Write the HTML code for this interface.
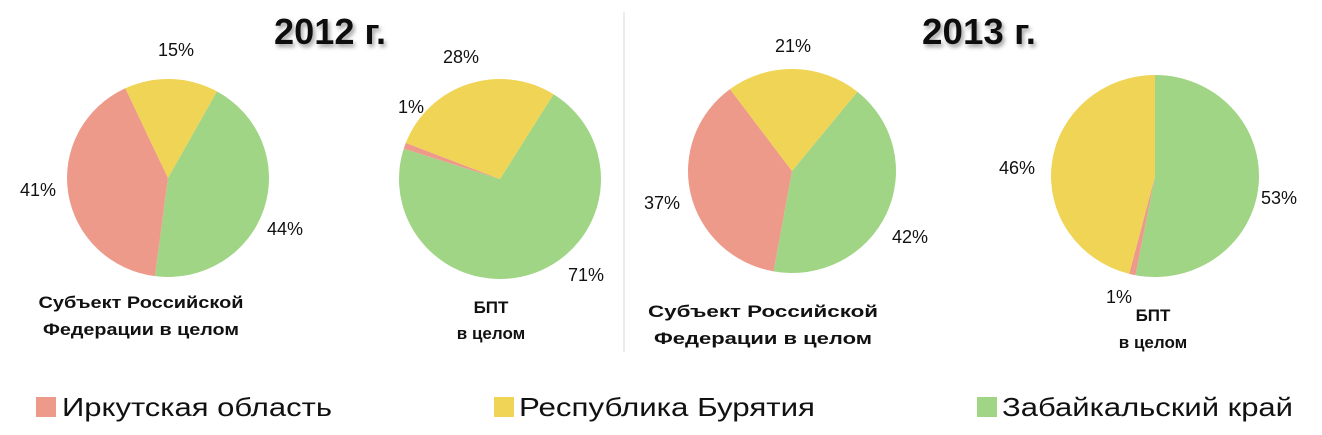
<!DOCTYPE html>
<html><head><meta charset="utf-8">
<style>
html,body{margin:0;padding:0;background:#fff;}
svg{display:block;}
text{font-family:"Liberation Sans",Arial,sans-serif;fill:#111;}
.p{font-size:18px;}
.c{font-size:17px;font-weight:bold;}
.t{font-size:36px;font-weight:bold;}
.l{font-size:26px;}
</style></head>
<body>
<svg id="s" width="1322" height="435" viewBox="0 0 1322 435" xmlns="http://www.w3.org/2000/svg">
<defs><filter id="sh" x="-20%" y="-20%" width="140%" height="160%"><feDropShadow dx="2" dy="3" stdDeviation="2" flood-color="#888" flood-opacity="0.8"/></filter></defs>
<line x1="624" y1="12" x2="624" y2="352" stroke="#e6e6e6" stroke-width="1.5"/>
<g id="pies"></g>
<text class="t" x="330" y="44" text-anchor="middle" filter="url(#sh)" textLength="112" lengthAdjust="spacingAndGlyphs">2012 г.</text>
<text class="t" x="979" y="44" text-anchor="middle" filter="url(#sh)" textLength="114" lengthAdjust="spacingAndGlyphs">2013 г.</text>

<text class="p" x="176" y="56" text-anchor="middle">15%</text>
<text class="p" x="38" y="196" text-anchor="middle">41%</text>
<text class="p" x="285" y="235" text-anchor="middle">44%</text>
<text class="p" x="461" y="63" text-anchor="middle">28%</text>
<text class="p" x="411" y="113" text-anchor="middle">1%</text>
<text class="p" x="586" y="281" text-anchor="middle">71%</text>
<text class="p" x="793" y="52" text-anchor="middle">21%</text>
<text class="p" x="662" y="209" text-anchor="middle">37%</text>
<text class="p" x="910" y="243" text-anchor="middle">42%</text>
<text class="p" x="1017" y="174" text-anchor="middle">46%</text>
<text class="p" x="1279" y="204" text-anchor="middle">53%</text>
<text class="p" x="1119" y="303" text-anchor="middle">1%</text>

<text class="c" x="141" y="308" text-anchor="middle" textLength="205" lengthAdjust="spacingAndGlyphs">Субъект Российской</text>
<text class="c" x="141" y="335" text-anchor="middle" textLength="196" lengthAdjust="spacingAndGlyphs">Федерации в целом</text>
<text class="c" x="491" y="313" text-anchor="middle">БПТ</text>
<text class="c" x="491" y="339" text-anchor="middle">в целом</text>
<text class="c" x="763" y="317" text-anchor="middle" textLength="230" lengthAdjust="spacingAndGlyphs">Субъект Российской</text>
<text class="c" x="763" y="344" text-anchor="middle" textLength="218" lengthAdjust="spacingAndGlyphs">Федерации в целом</text>
<text class="c" x="1153" y="321" text-anchor="middle">БПТ</text>
<text class="c" x="1153" y="348" text-anchor="middle">в целом</text>

<rect x="36" y="397" width="20" height="20" fill="#EE9A8A"/>
<text class="l" x="62" y="416" textLength="270" lengthAdjust="spacingAndGlyphs">Иркутская область</text>
<rect x="494" y="397" width="20" height="20" fill="#F0D455"/>
<text class="l" x="519" y="416" textLength="296" lengthAdjust="spacingAndGlyphs">Республика Бурятия</text>
<rect x="977" y="397" width="20" height="20" fill="#A0D585"/>
<text class="l" x="1002" y="416" textLength="291" lengthAdjust="spacingAndGlyphs">Забайкальский край</text>
</svg>
<script>
var R="#EE9A8A",Y="#F0D455",G="#A0D585";
var pies=[
 {cx:168,cy:178,rx:101,ry:99,start:29,sl:[[44,G],[41,R],[15,Y]]},
 {cx:500,cy:179,rx:101,ry:100,start:32,sl:[[71,G],[1,R],[28,Y]]},
 {cx:792,cy:171,rx:104,ry:102,start:39,sl:[[42,G],[37,R],[21,Y]]},
 {cx:1155,cy:176,rx:104,ry:101,start:0,sl:[[53,G],[1,R],[46,Y]]}
];
var g=document.getElementById("pies"),h="";
pies.forEach(function(p){
 var a=p.start;
 p.sl.forEach(function(s){
  var b=a+s[0]*3.6;
  function pt(d){var r=d*Math.PI/180;return [p.cx+p.rx*Math.sin(r),p.cy-p.ry*Math.cos(r)];}
  var A=pt(a),B=pt(b),large=(b-a)>180?1:0;
  h+='<path d="M'+p.cx+','+p.cy+' L'+A[0].toFixed(2)+','+A[1].toFixed(2)+' A'+p.rx+','+p.ry+' 0 '+large+' 1 '+B[0].toFixed(2)+','+B[1].toFixed(2)+' Z" fill="'+s[1]+'"/>';
  a=b;
 });
});
g.innerHTML=h;
</script>
</body></html>
